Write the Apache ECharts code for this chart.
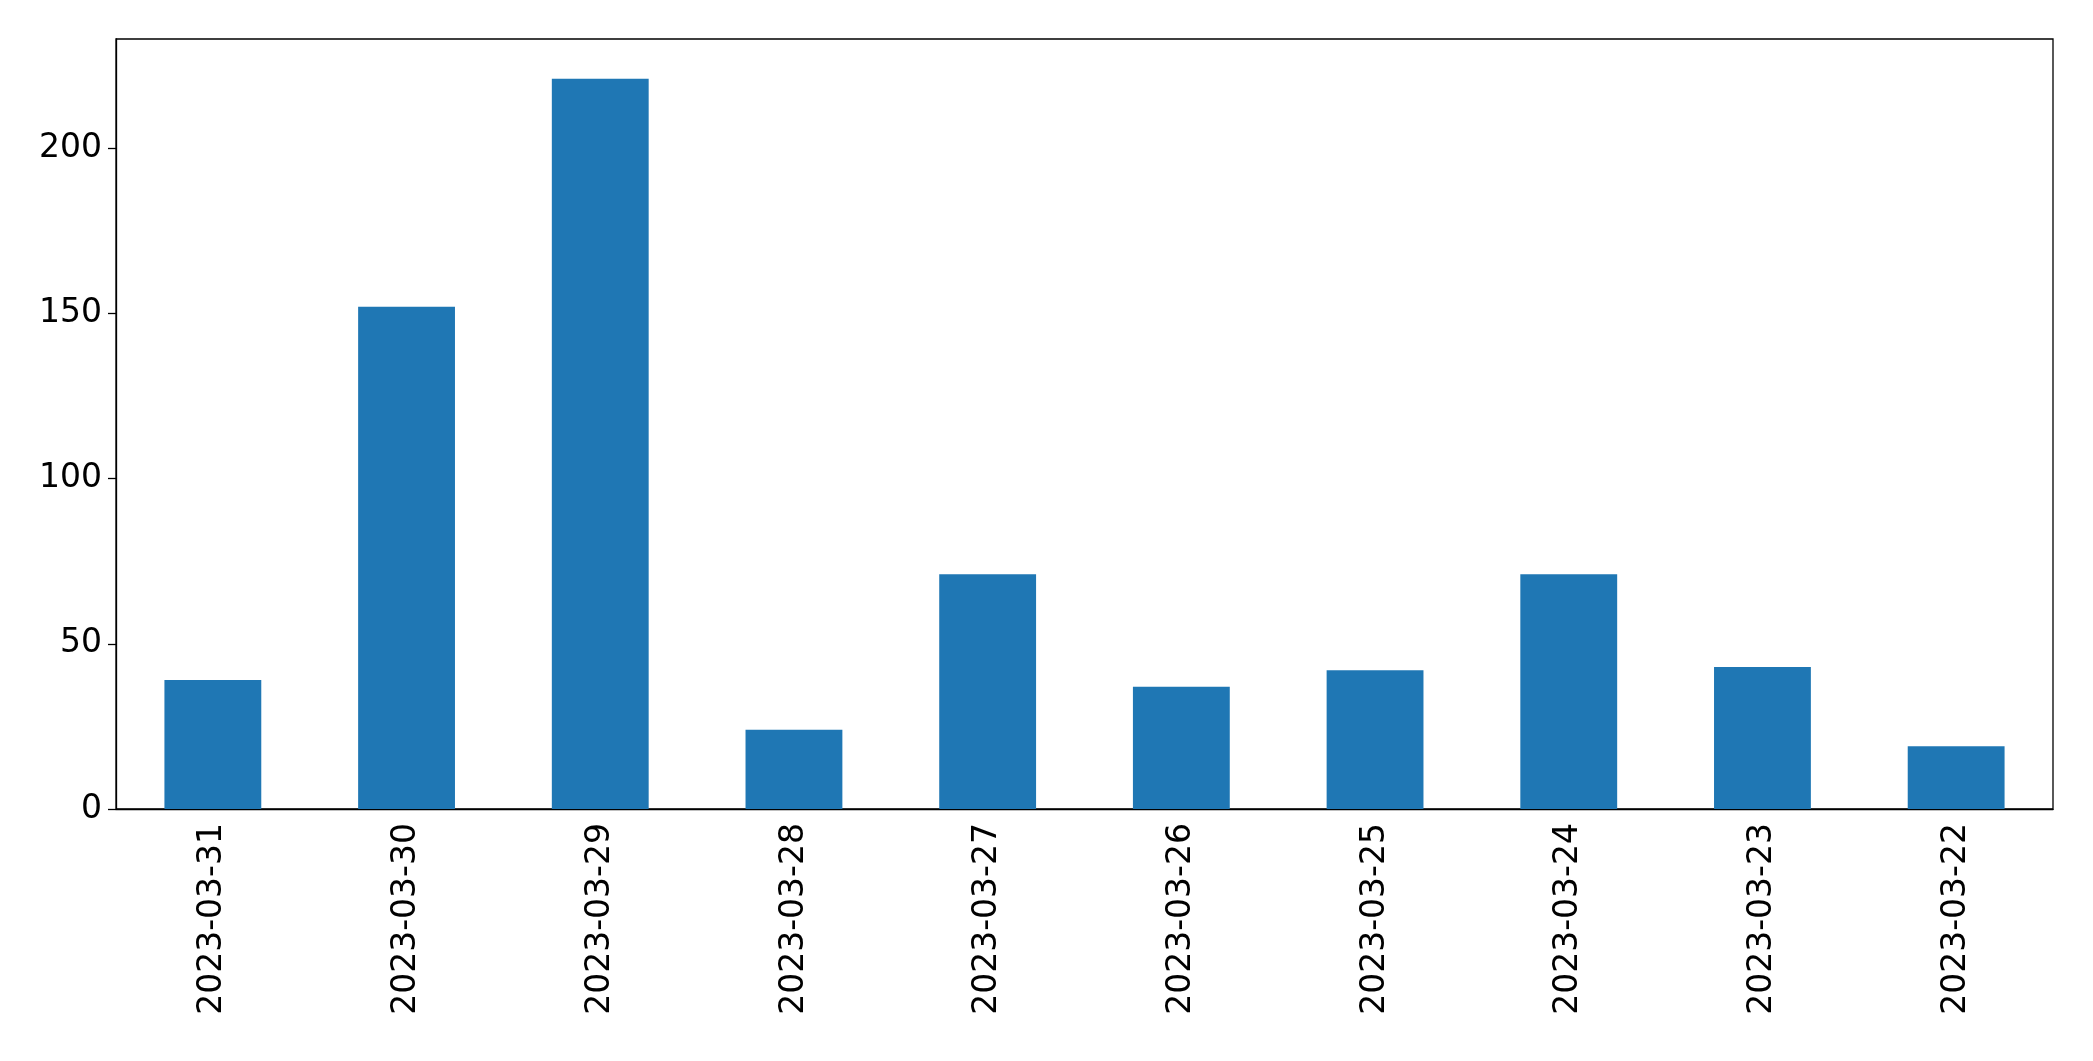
<!DOCTYPE html>
<html>
<head>
<meta charset="utf-8">
<script src="https://cdn.jsdelivr.net/npm/echarts@6/dist/echarts.min.js"></script>
<style>html,body{margin:0;padding:0;background:#fff;}#chart{width:2093px;height:1061px;}</style>
</head>
<body>
<div id="chart"></div>
<script>
const dates = ["2023-03-31", "2023-03-30", "2023-03-29", "2023-03-28", "2023-03-27", "2023-03-26", "2023-03-25", "2023-03-24", "2023-03-23", "2023-03-22"];
const counts = [39, 152, 221, 24, 71, 37, 42, 71, 43, 19];

const font = { fontFamily: "DejaVu Sans", fontSize: 33, color: "#000" };
const chart = echarts.init(document.getElementById("chart"));
chart.setOption({
  animation: false,
  grid: { left: 116, right: 40, top: 39, bottom: 252, show: true, borderColor: "#000", borderWidth: 1.3, backgroundColor: "#fff" },
  xAxis: {
    type: "category",
    data: dates,
    axisLine: { lineStyle: { color: "#000", width: 1.3 } },
    axisTick: { alignWithLabel: true, length: 8, lineStyle: { color: "#000", width: 1.3 } },
    axisLabel: Object.assign({ rotate: 90, margin: 14 }, font),
  },
  yAxis: {
    type: "value",
    min: 0,
    max: 233,
    interval: 50,
    splitLine: { show: false },
    axisLine: { show: true, lineStyle: { color: "#000", width: 1.3 } },
    axisTick: { show: true, length: 8, lineStyle: { color: "#000", width: 1.3 } },
    axisLabel: Object.assign({ margin: 14, showMaxLabel: false }, font),
  },
  series: [{
    type: "bar",
    data: counts,
    barCategoryGap: "50%",
    itemStyle: { color: "#1f77b4" },
  }],
});
</script>
</body>
</html>
